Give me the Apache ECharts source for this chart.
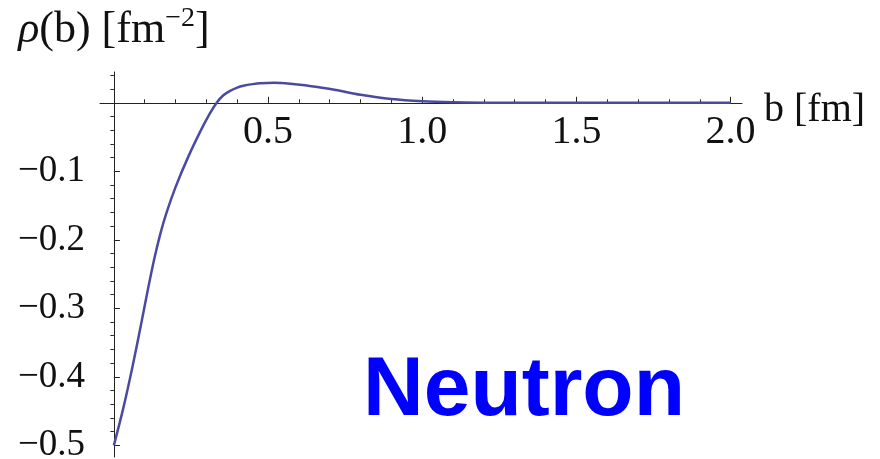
<!DOCTYPE html>
<html>
<head>
<meta charset="utf-8">
<script src="https://cdn.jsdelivr.net/npm/echarts@6/dist/echarts.min.js"></script>
<style>
html,body{margin:0;padding:0;background:#fff;}
#chart{width:880px;height:459px;}
</style>
</head>
<body>
<div id="chart"></div>
<script>
// impact parameter b [fm]
const bValues = [0, 0.03, 0.06, 0.09, 0.11, 0.13, 0.15, 0.17, 0.2, 0.24, 0.28, 0.31, 0.334, 0.355, 0.377, 0.4, 0.42, 0.45, 0.475, 0.52, 0.572, 0.62, 0.67, 0.72, 0.8, 0.9, 1.0, 1.1, 1.2, 1.35, 1.5, 1.75, 2.0];
// transverse charge density rho(b) [fm^-2]
const rhoValues = [-0.5, -0.4468, -0.386, -0.3193, -0.2733, -0.2298, -0.1923, -0.1613, -0.123, -0.08, -0.042, -0.0165, 0.0005, 0.011, 0.0175, 0.0222, 0.0249, 0.0273, 0.0286, 0.0292, 0.028, 0.0258, 0.0225, 0.0187, 0.0117, 0.0055, 0.0022, 0.0007, 0.0002, 0, 0, 0, 0];
// tick labels
const xMajorTicks = [0.5, 1.0, 1.5, 2.0];
const xMinorTicks = [0.1, 0.2, 0.3, 0.4, 0.6, 0.7, 0.8, 0.9, 1.1, 1.2, 1.3, 1.4, 1.6, 1.7, 1.8, 1.9];
const yMajorTicks = [-0.5, -0.4, -0.3, -0.2, -0.1];
const yMinorTicks = [-0.48, -0.46, -0.44, -0.42, -0.38, -0.36, -0.34, -0.32, -0.28, -0.26, -0.24, -0.22, -0.18, -0.16, -0.14, -0.12, -0.08, -0.06, -0.04, -0.02, 0.02, 0.04];

const axisColor = '#222';
const textColor = '#111';
const serif = '"Liberation Serif", "DejaVu Serif", serif';

const chart = echarts.init(document.getElementById('chart'));
const xRange = {min: -0.045, max: 2.037};
const yRange = {min: -0.517, max: 0.045};
const gridBox = {left: 100, right: 138, top: 72, bottom: 2};
const H = 459;
const gridHeight = H - gridBox.top - gridBox.bottom;
// move the bottom x axis up so it sits on rho = 0
const xAxisOffset = -gridHeight * (0 - yRange.min) / (yRange.max - yRange.min);

chart.setOption({
  animation: false,
  backgroundColor: '#fff',
  grid: Object.assign({containLabel: false, outerBoundsMode: 'none'}, gridBox),
  xAxis: [
    {
      type: 'value', min: xRange.min, max: xRange.max, position: 'bottom', offset: xAxisOffset,
      axisLine: {show: true, onZero: false, lineStyle: {color: axisColor, width: 1}},
      axisTick: {show: true, inside: true, length: 6, customValues: xMajorTicks, lineStyle: {color: axisColor}},
      axisLabel: {show: true, customValues: xMajorTicks, margin: 10, color: textColor, fontFamily: serif, fontSize: 40,
        formatter: v => v.toFixed(1)},
      splitLine: {show: false},
      name: '{n|b [fm]}', nameLocation: 'end', nameGap: 22,
      nameTextStyle: {
        color: textColor, fontFamily: serif, fontSize: 40,
        rich: {n: {color: textColor, fontFamily: serif, fontSize: 40, padding: [16, 0, 0, 0]}}
      }
    },
    {
      type: 'value', min: xRange.min, max: xRange.max, position: 'bottom', offset: xAxisOffset,
      axisLine: {show: false, onZero: false},
      axisTick: {show: true, inside: true, length: 3.5, customValues: xMinorTicks, lineStyle: {color: axisColor}},
      axisLabel: {show: false},
      splitLine: {show: false}
    }
  ],
  yAxis: [
    {
      type: 'value', min: yRange.min, max: yRange.max,
      axisLine: {show: true, onZero: true, onZeroAxisIndex: 0, lineStyle: {color: axisColor, width: 1}},
      axisTick: {show: true, inside: true, length: 6, customValues: yMajorTicks, lineStyle: {color: axisColor}},
      axisLabel: {show: true, customValues: yMajorTicks, margin: 15, color: textColor, fontFamily: serif, fontSize: 37,
        formatter: v => (v < 0 ? '\u2212' : '') + Math.abs(v).toFixed(1)},
      splitLine: {show: false},
      name: '{i|ρ}(b) [fm{sup|\u22122}]', nameLocation: 'end', nameGap: 17,
      nameTextStyle: {
        color: textColor, fontFamily: serif, fontSize: 44,
        rich: {
          i: {fontStyle: 'italic', fontFamily: serif, fontSize: 44, color: textColor},
          sup: {fontFamily: serif, fontSize: 28, color: textColor, verticalAlign: 'bottom', padding: [0, 0, 22, 0]}
        }
      }
    },
    {
      type: 'value', min: yRange.min, max: yRange.max,
      axisLine: {show: false, onZero: true, onZeroAxisIndex: 0},
      axisTick: {show: true, inside: true, length: 3.5, customValues: yMinorTicks, lineStyle: {color: axisColor}},
      axisLabel: {show: false},
      splitLine: {show: false}
    }
  ],
  graphic: [
    {
      type: 'text', left: 363, top: 350,
      style: {text: 'Neutron', fill: '#0000ff', font: 'bold 84px "Liberation Sans", Arial, sans-serif'}
    }
  ],
  series: [
    {
      type: 'line',
      xAxisIndex: 0, yAxisIndex: 0,
      data: bValues.map((b, i) => [b, rhoValues[i]]),
      smooth: 0.3,
      showSymbol: false,
      lineStyle: {color: '#4a4aa2', width: 2.5}
    }
  ]
});
</script>
</body>
</html>
